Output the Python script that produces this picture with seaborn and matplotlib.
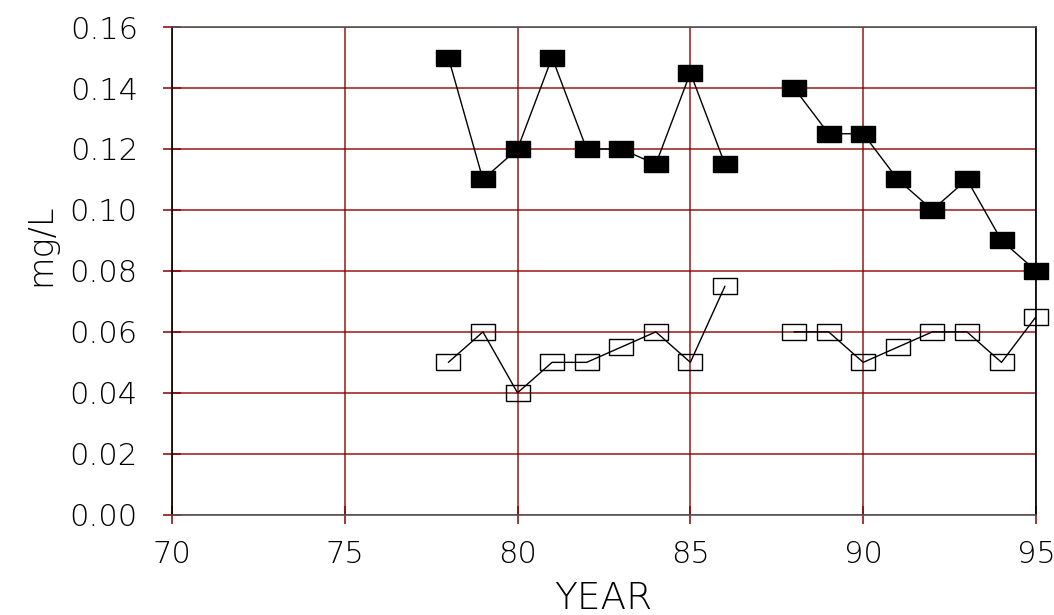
import numpy as np
import pandas as pd
import matplotlib
matplotlib.use('Agg')
import matplotlib.pyplot as plt
import seaborn as sns

sns.set_style('white')
plt.rcParams['font.family'] = ['DejaVu Sans']
plt.rcParams['font.weight'] = 'light'
plt.rcParams['axes.labelweight'] = 'light'

# data
years = [78, 79, 80, 81, 82, 83, 84, 85, 86, 88, 89, 90, 91, 92, 93, 94, 95]
segment = [1, 1, 1, 1, 1, 1, 1, 1, 1, 2, 2, 2, 2, 2, 2, 2, 2]
filled_vals = [0.150, 0.110, 0.120, 0.150, 0.120, 0.120, 0.115, 0.145, 0.115,
               0.140, 0.125, 0.125, 0.110, 0.100, 0.110, 0.090, 0.080]
open_vals = [0.050, 0.060, 0.040, 0.050, 0.050, 0.055, 0.060, 0.050, 0.075,
             0.060, 0.060, 0.050, 0.055, 0.060, 0.060, 0.050, 0.065]

x_ticks = [70, 75, 80, 85, 90, 95]
y_ticks = [0.00, 0.02, 0.04, 0.06, 0.08, 0.10, 0.12, 0.14, 0.16]

df = pd.DataFrame({'Year': years, 'seg': segment,
                   'filled': filled_vals, 'open': open_vals})

grid_red = '#8b0000'
box = [(-1.5, -1), (1.5, -1), (1.5, 1), (-1.5, 1), (-1.5, -1)]

fig, ax = plt.subplots(figsize=(10.54, 6.15), dpi=100)
fig.subplots_adjust(left=0.163, right=0.983, top=0.956, bottom=0.163)

sns.lineplot(data=df, x='Year', y='open', units='seg', estimator=None,
             color='black', lw=1, ax=ax, zorder=3)
sns.lineplot(data=df, x='Year', y='filled', units='seg', estimator=None,
             color='black', lw=1, ax=ax, zorder=3)

ax.plot(df['Year'], df['open'], ls='none', marker=box, ms=18,
        mfc='none', mec='black', mew=1, clip_on=False, zorder=4)
ax.plot(df['Year'], df['filled'], ls='none', marker=box, ms=18,
        mfc='black', mec='black', mew=1, clip_on=False, zorder=4)

ax.set_xlim(70, 95)
ax.set_ylim(0, 0.16)
ax.set_xticks(x_ticks)
ax.set_yticks(y_ticks)
ax.set_xticklabels([str(t) for t in x_ticks])
ax.set_yticklabels(['{:.2f}'.format(t) for t in y_ticks])

ax.grid(True, color=grid_red, lw=1.1, alpha=0.9, zorder=0)
ax.set_axisbelow(True)
ax.tick_params(axis='both', direction='inout', length=13, width=1.1,
               color=grid_red, labelsize=22, labelcolor='black',
               bottom=True, left=True)
ax.tick_params(axis='y', pad=18)
ax.tick_params(axis='x', pad=12)

for side in ['left', 'right']:
    ax.spines[side].set_color('black')
    ax.spines[side].set_linewidth(1.2)
for side in ['top', 'bottom']:
    ax.spines[side].set_color('#555555')
    ax.spines[side].set_linewidth(1.2)

ax.set_xlabel('YEAR', fontsize=27, color='black', fontweight='light')
ax.set_ylabel('mg/L', fontsize=24, color='black', fontweight='light')
ax.xaxis.set_label_coords(0.499, -0.135)
ax.yaxis.set_label_coords(-0.133, 0.553)

plt.savefig('out.png', dpi=100)
